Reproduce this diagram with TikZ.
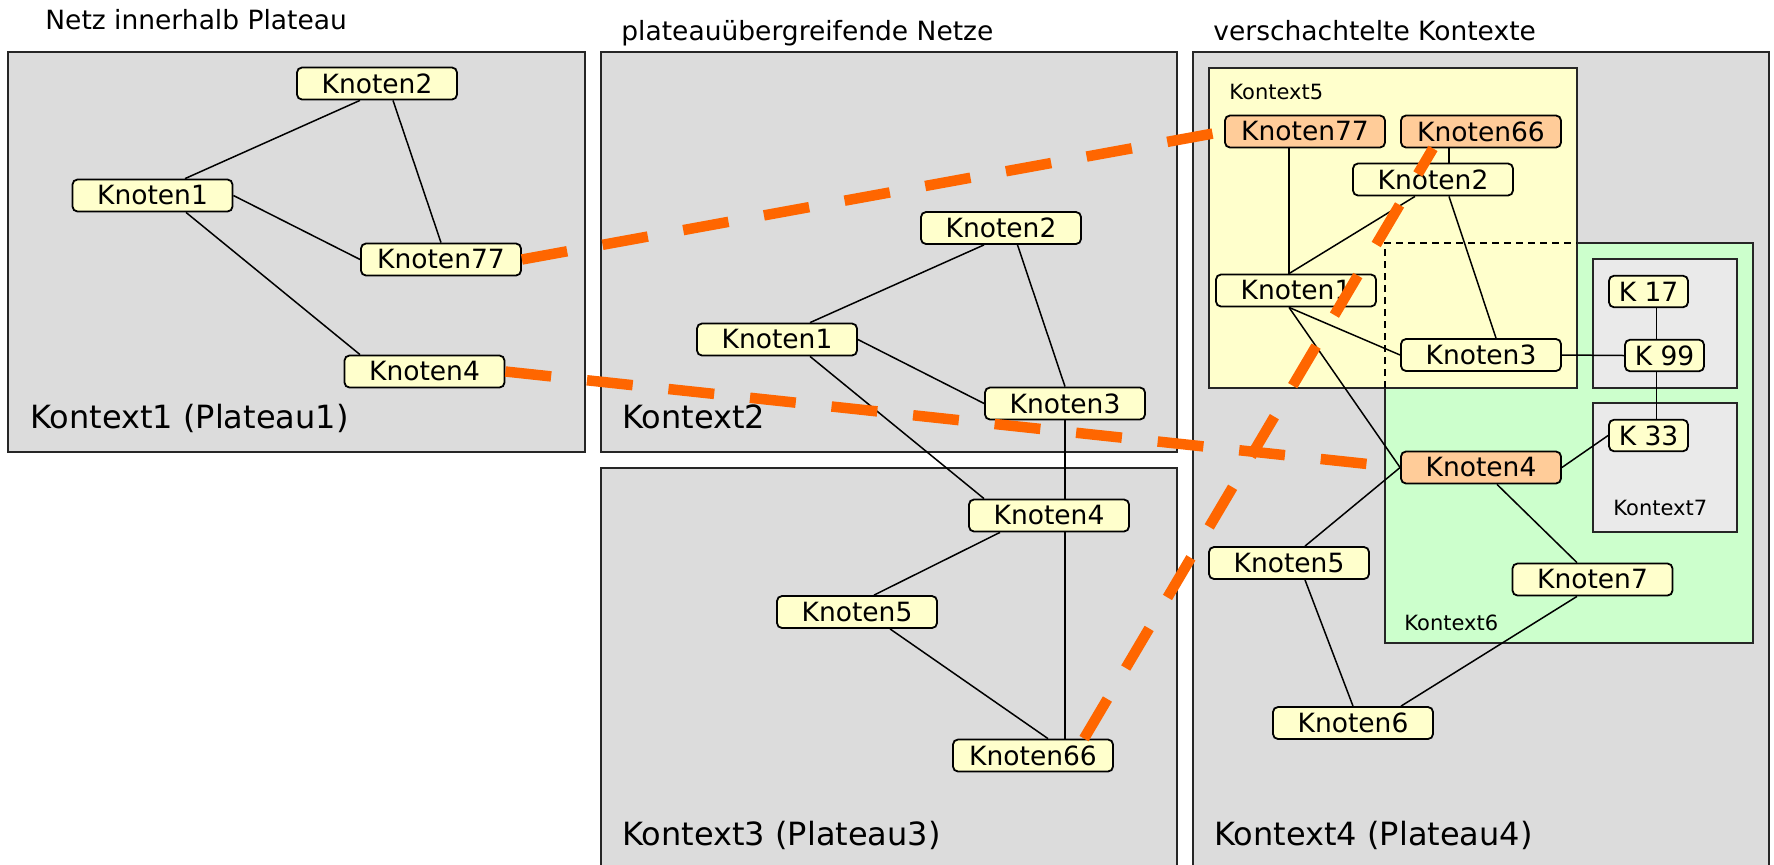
\documentclass[tikz,border=0pt]{standalone}
\usepackage{fontspec}
\setmainfont{DejaVu Sans}
\definecolor{ctxgray}{RGB}{220,220,220}
\definecolor{ctxlight}{RGB}{234,234,234}
\definecolor{nodeyellow}{RGB}{255,255,204}
\definecolor{nodeorange}{RGB}{255,204,153}
\definecolor{ctxgreen}{RGB}{204,255,204}
\definecolor{linkorange}{RGB}{255,102,0}
\begin{document}
\begin{tikzpicture}[x=0.5pt,y=-0.5pt,
  nd/.style={draw=black,line width=0.9pt,rounded corners=2.5pt,fill=nodeyellow,
    minimum width=80pt,minimum height=16pt,inner sep=0pt,
    font=\fontsize{13.25}{15}\selectfont},
  hot/.style={nd,fill=nodeorange},
  kn/.style={nd,minimum width=39.5pt,minimum height=15.75pt},
  ctx/.style={draw=black!85,line width=1pt,fill=ctxgray},
  edge/.style={draw=black,line width=0.75pt},
  link/.style={draw=linkorange,line width=5.25pt,dash pattern=on 23pt off 18pt},
  big/.style={anchor=base west,inner sep=0pt,font=\fontsize{16}{18}\selectfont},
  ttl/.style={anchor=base west,inner sep=0pt,font=\fontsize{13.25}{15}\selectfont},
  sml/.style={anchor=base west,inner sep=0pt,font=\fontsize{10.5}{12}\selectfont},
]
\useasboundingbox (0,0) rectangle (1774,864);
\begin{scope}
\clip (0,0) rectangle (1774,864);
% contexts
\draw[ctx] (8,52) rectangle (585,452);
\draw[ctx] (601,52) rectangle (1177,452);
\draw[ctx] (601,468) rectangle (1177,900);
\draw[ctx] (1193,52) rectangle (1769,900);
\draw[ctx,fill=ctxgreen] (1385,243) rectangle (1753,643);
\draw[ctx,fill=nodeyellow] (1209,68) rectangle (1577,388);
\draw[black,line width=1pt,dash pattern=on 3.5pt off 2.5pt] (1385,388) -- (1385,243) -- (1577,243);
\draw[ctx,fill=ctxlight] (1593,259) rectangle (1737,388);
\draw[ctx,fill=ctxlight] (1593,403) rectangle (1737,532);

% titles and labels
\node[ttl] (t1) at (45,29) {Netz innerhalb Plateau};
\node[ttl] (t2) at (621,40) {plateauübergreifende Netze};
\node[ttl] (t3) at (1213,40) {verschachtelte Kontexte};
\node[big] (l1) at (30,428) {Kontext1 (Plateau1)};
\node[big] (l2) at (622,428) {Kontext2};
\node[big] (l3) at (622,845) {Kontext3 (Plateau3)};
\node[big] (l4) at (1214,845) {Kontext4 (Plateau4)};
\node[sml] (l5) at (1229,99) {Kontext5};
\node[sml] (l6) at (1404,630) {Kontext6};
\node[sml] (l7) at (1613,515) {Kontext7};

% nodes context 1
\node[nd] (a2) at (377,83.5) {Knoten2};
\node[nd] (a1) at (152.5,195.5) {Knoten1};
\node[nd] (a77) at (441,259.5) {Knoten77};
\node[nd] (a4) at (424.5,371.5) {Knoten4};
% context 2
\node[nd] (b2) at (1001,228) {Knoten2};
\node[nd] (b1) at (777,339.5) {Knoten1};
\node[nd] (b3) at (1065,403.5) {Knoten3};
% context 3
\node[nd] (c4) at (1049,515.5) {Knoten4};
\node[nd] (c5) at (857,612) {Knoten5};
\node[nd] (c66) at (1033,755.5) {Knoten66};
% context 4
\node[hot] (d77) at (1305,131.5) {Knoten77};
\node[hot] (d66) at (1481,131.5) {Knoten66};
\node[nd] (d2) at (1433,179.5) {Knoten2};
\node[nd] (d1) at (1296,290.5) {Knoten1};
\node[nd] (d3) at (1481,355) {Knoten3};
\node[hot] (d4) at (1481,467.5) {Knoten4};
\node[nd] (d5) at (1289,563) {Knoten5};
\node[nd] (d7) at (1592.5,579.5) {Knoten7};
\node[nd] (d6) at (1353,723) {Knoten6};
\node[kn] (k17) at (1648.5,291.5) {K 17};
\node[kn] (k99) at (1664.5,355.5) {K 99};
\node[kn] (k33) at (1648.5,435.5) {K 33};

% edges context 1
\draw[edge] ([xshift=16.25pt]a1.north) -- ([xshift=-8.5pt]a2.south);
\draw[edge] ([xshift=8pt]a2.south) -- (a77.north);
\draw[edge] (a1.east) -- (a77.west);
\draw[edge] ([xshift=16.75pt]a1.south) -- ([xshift=-32.25pt]a4.north);
% edges context 2/3
\draw[edge] ([xshift=16.5pt]b1.north) -- ([xshift=-8.5pt]b2.south);
\draw[edge] ([xshift=8.25pt]b2.south) -- (b3.north);
\draw[edge] (b1.east) -- (b3.west);
\draw[edge] ([xshift=16.5pt]b1.south) -- ([xshift=-32.5pt]c4.north);
\draw[edge] (b3.south) -- ([xshift=8pt]c4.north);
\draw[edge] ([xshift=-24.5pt]c4.south) -- ([xshift=8.5pt]c5.north);
\draw[edge] ([xshift=8pt]c4.south) -- ([xshift=16pt]c66.north);
\draw[edge] ([xshift=16.5pt]c5.south) -- ([xshift=7.5pt]c66.north);
% edges context 4
\draw[edge] ([xshift=-8pt]d77.south) -- ([xshift=-3.5pt]d1.north);
\draw[edge] ([xshift=-16pt]d66.south) -- ([xshift=8pt]d2.north);
\draw[edge] ([xshift=-9pt]d2.south) -- ([xshift=-3.5pt]d1.north);
\draw[edge] ([xshift=8pt]d2.south) -- ([xshift=7.5pt]d3.north);
\draw[edge] ([xshift=-3.5pt]d1.south) -- (d3.west);
\draw[edge] ([xshift=-3.5pt]d1.south) -- (d4.west);
\draw[edge] (d3.east) -- (k99.west);
\draw[edge] ([xshift=4pt]k17.south) -- ([xshift=-4pt]k99.north);
\draw[edge] ([xshift=-4pt]k99.south) -- ([xshift=4pt]k33.north);
\draw[edge] (d4.east) -- (k33.west);
\draw[edge] (d4.west) -- ([xshift=8pt]d5.north);
\draw[edge] ([xshift=8pt]d4.south) -- ([xshift=-7.75pt]d7.north);
\draw[edge] ([xshift=8pt]d5.south) -- (d6.north);
\draw[edge] ([xshift=-7.75pt]d7.south) -- ([xshift=24pt]d6.north);

% cross-plateau links
\draw[link] (a77.east) -- (d77.west);
\draw[link] (a4.east) -- (d4.west);
\draw[link] ([xshift=25.5pt]c66.north) -- ([xshift=-24pt]d66.south);
\end{scope}
\end{tikzpicture}
\end{document}
